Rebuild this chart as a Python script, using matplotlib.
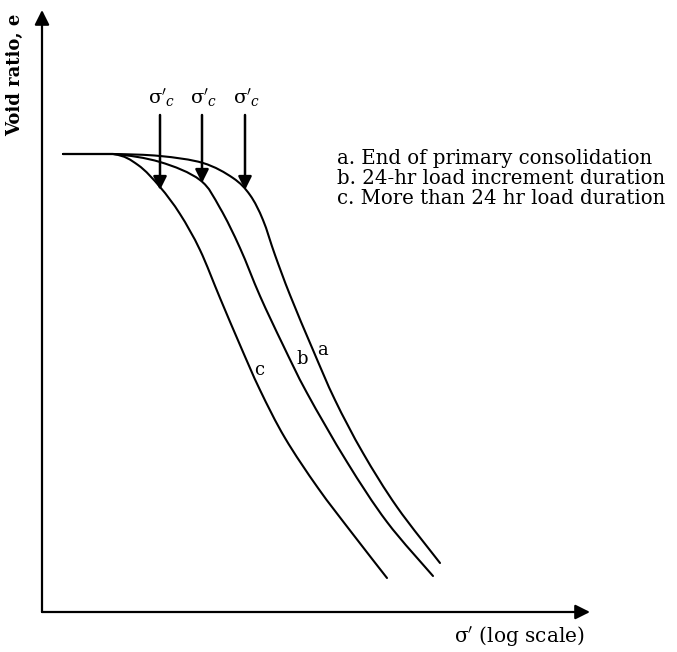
import numpy as np
import matplotlib.pyplot as plt
from matplotlib.path import Path
from matplotlib.patches import PathPatch

# ---------------------------------------------------------
# DATA (arbitrary units: x ~ log of effective stress, y ~ void ratio)
# ---------------------------------------------------------
curve_a_x = [0.21, 0.71, 1.18, 1.61, 1.91, 2.08, 2.21, 2.33, 2.48, 2.71, 2.93, 3.21, 3.55, 3.98]
curve_a_e = [4.58, 4.58, 4.56, 4.49, 4.34, 4.17, 3.92, 3.57, 3.17, 2.62, 2.12, 1.59, 1.05, 0.49]

curve_b_x = [0.21, 0.71, 1.18, 1.58, 1.78, 1.98, 2.18, 2.41, 2.65, 3.05, 3.45, 3.91]
curve_b_e = [4.58, 4.58, 4.50, 4.32, 4.04, 3.64, 3.16, 2.67, 2.19, 1.50, 0.90, 0.36]

curve_c_x = [0.21, 0.71, 0.96, 1.18, 1.38, 1.58, 1.78, 1.98, 2.18, 2.43, 2.76, 3.10, 3.45]
curve_c_e = [4.58, 4.58, 4.47, 4.25, 3.98, 3.62, 3.14, 2.67, 2.22, 1.74, 1.24, 0.79, 0.34]

# preconsolidation pressure markers (c, b, a)
pc_x = [1.18, 1.60, 2.03]
pc_e = [4.22, 4.29, 4.22]
pc_top = 4.97

curve_labels = ['a', 'b', 'c']
label_x = [2.81, 2.60, 2.17]
label_e = [2.62, 2.53, 2.42]

legend_lines = ['a. End of primary consolidation',
                'b. 24-hr load increment duration',
                'c. More than 24 hr load duration']

XMAX, YMAX = 5.48, 6.02


def smooth_path(xs, ys):
    # first segment is the straight flat start, the rest is a
    # Catmull-Rom curve through the points drawn as Bezier segments
    p = np.column_stack([xs, ys])
    p = np.vstack([p, p[-1]])
    verts = [p[0], p[1]]
    codes = [Path.MOVETO, Path.LINETO]
    for i in range(1, len(p) - 2):
        c1 = p[i] + (p[i + 1] - p[i - 1]) / 6
        c2 = p[i + 1] - (p[i + 2] - p[i]) / 6
        verts += [c1, c2, p[i + 1]]
        codes += [Path.CURVE4] * 3
    return Path(verts, codes)


# ---------------------------------------------------------
# PLOT
# ---------------------------------------------------------
plt.rcParams['font.family'] = ['DejaVu Serif']
plt.rcParams['mathtext.fontset'] = 'dejavuserif'

fig = plt.figure(figsize=(6.77, 6.52), dpi=100)
ax = fig.add_axes([42 / 677, 40 / 652, 548 / 677, 602 / 652])
ax.set_xlim(0, XMAX)
ax.set_ylim(0, YMAX)
for s in ax.spines.values():
    s.set_visible(False)
ax.set_xticks([])
ax.set_yticks([])

# axes with arrow heads
arrow_kw = dict(arrowstyle='-|>', color='black', lw=1.6, mutation_scale=22,
                shrinkA=0, shrinkB=0)
ax.annotate('', xy=(1, 0), xytext=(0, 0), xycoords='axes fraction',
            textcoords='axes fraction', arrowprops=arrow_kw, annotation_clip=False)
ax.annotate('', xy=(0, 1), xytext=(0, 0), xycoords='axes fraction',
            textcoords='axes fraction', arrowprops=arrow_kw, annotation_clip=False)

for xs, es in [(curve_a_x, curve_a_e), (curve_b_x, curve_b_e), (curve_c_x, curve_c_e)]:
    ax.add_patch(PathPatch(smooth_path(xs, es), fill=False, edgecolor='black',
                           lw=1.5, joinstyle='round', capstyle='round'))

# sigma'_c arrows
for x, e in zip(pc_x, pc_e):
    ax.annotate('', xy=(x, e), xytext=(x, pc_top),
                arrowprops=dict(arrowstyle='-|>', color='black', lw=1.8,
                                mutation_scale=20, shrinkA=0, shrinkB=0))
    ax.text(x + 0.02, pc_top + 0.17, r"$\mathrm{\sigma}'_c$", fontsize=14,
            ha='center', va='center', fontweight='bold')

for lab, x, e in zip(curve_labels, label_x, label_e):
    ax.text(x, e, lab, fontsize=13, ha='center', va='center')

for i, line in enumerate(legend_lines):
    ax.text(2.95, 4.54 - 0.205 * i, line, fontsize=14.2, ha='left', va='center')

fig.text(15 / 677, 1 - 75 / 652, 'Void ratio, e', rotation=90, fontsize=13,
         fontweight='bold', ha='center', va='center')
fig.text(519 / 677, 1 - 637 / 652, r"$\mathrm{\sigma}'$ (log scale)", fontsize=14.5,
         ha='center', va='center')

fig.savefig('out.png', dpi=100)
